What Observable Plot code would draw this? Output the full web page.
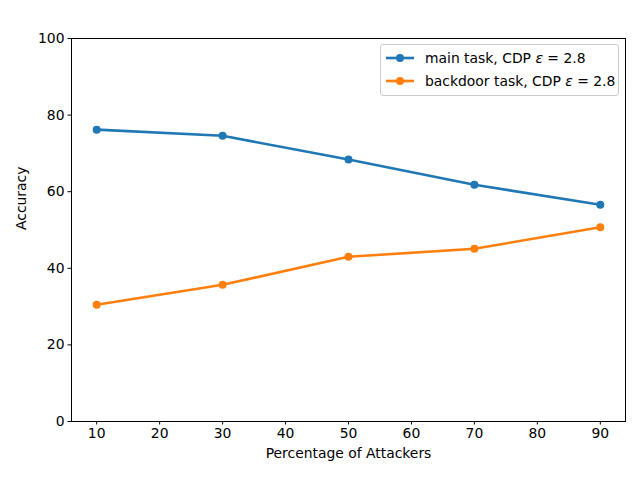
<!DOCTYPE html>
<html><head><meta charset="utf-8">
<script src="https://cdn.jsdelivr.net/npm/d3@7"></script>
<script src="https://cdn.jsdelivr.net/npm/@observablehq/plot@0.6"></script>
<style>body{margin:0;background:#fff}svg{font-family:"DejaVu Sans",sans-serif}</style>
</head><body><div id="chart"></div>
<script>
const attackers = [10, 30, 50, 70, 90];
const mainTask = [76.2, 74.6, 68.4, 61.8, 56.6];
const backdoorTask = [30.5, 35.7, 43.0, 45.1, 50.7];
const seriesNames = ["main task", "backdoor task"];
const seriesColors = ["#1f77b4", "#ff7f0e"];
const xTicks = [10, 20, 30, 40, 50, 60, 70, 80, 90];
const yTicks = [0, 20, 40, 60, 80, 100];

const data = [];
attackers.forEach((a, i) => {
  data.push({x: a, y: mainTask[i], s: seriesNames[0]});
  data.push({x: a, y: backdoorTask[i], s: seriesNames[1]});
});

const fs = 13.9;
const plot = Plot.plot({
  width: 640, height: 480,
  marginLeft: 71, marginRight: 15, marginTop: 38, marginBottom: 59,
  style: {fontFamily: "DejaVu Sans, sans-serif", fontSize: fs + "px", color: "#000", background: "#fff"},
  x: {domain: [6, 94], ticks: xTicks, label: null},
  y: {domain: [0, 100], ticks: yTicks, label: null},
  color: {domain: seriesNames, range: seriesColors},
  marks: [
    Plot.axisX({ticks: xTicks, tickSize: 3.5, tickPadding: 3.5, fontSize: fs, label: null}),
    Plot.axisY({ticks: yTicks, tickSize: 3.5, tickPadding: 3.5, fontSize: fs, label: null}),
    Plot.line(data, {x: "x", y: "y", z: "s", stroke: "s", strokeWidth: 2.6}),
    Plot.dot(data, {x: "x", y: "y", fill: "s", r: 4}),
    Plot.frame({stroke: "#000", strokeWidth: 1}),
    Plot.text(["Percentage of Attackers"], {frameAnchor: "bottom", dy: 36, fontSize: fs}),
    Plot.text(["Accuracy"], {frameAnchor: "left", dx: -50, rotate: -90, fontSize: fs})
  ]
});
document.getElementById("chart").appendChild(plot);

// legend
const svg = d3.select(plot);
const g = svg.append("g").attr("text-anchor", "start");
g.append("rect").attr("x", 380.5).attr("y", 44.5).attr("width", 238).attr("height", 51)
  .attr("rx", 2.5).attr("fill", "#fff").attr("fill-opacity", 0.8).attr("stroke", "#ccc");
seriesNames.forEach((n, i) => {
  const y = 58 + i * 23;
  g.append("line").attr("x1", 386).attr("x2", 414).attr("y1", y).attr("y2", y)
    .attr("stroke", seriesColors[i]).attr("stroke-width", 2.6);
  g.append("circle").attr("cx", 400).attr("cy", y).attr("r", 4).attr("fill", seriesColors[i]);
  const t = g.append("text").attr("x", 425).attr("y", y).attr("dy", "0.35em")
    .attr("font-size", fs).attr("fill", "#000").attr("text-anchor", "start");
  t.append("tspan").text(n + ", CDP ");
  t.append("tspan").attr("font-style", "italic").text("ε");
  t.append("tspan").text(" = 2.8");
});
</script></body></html>
